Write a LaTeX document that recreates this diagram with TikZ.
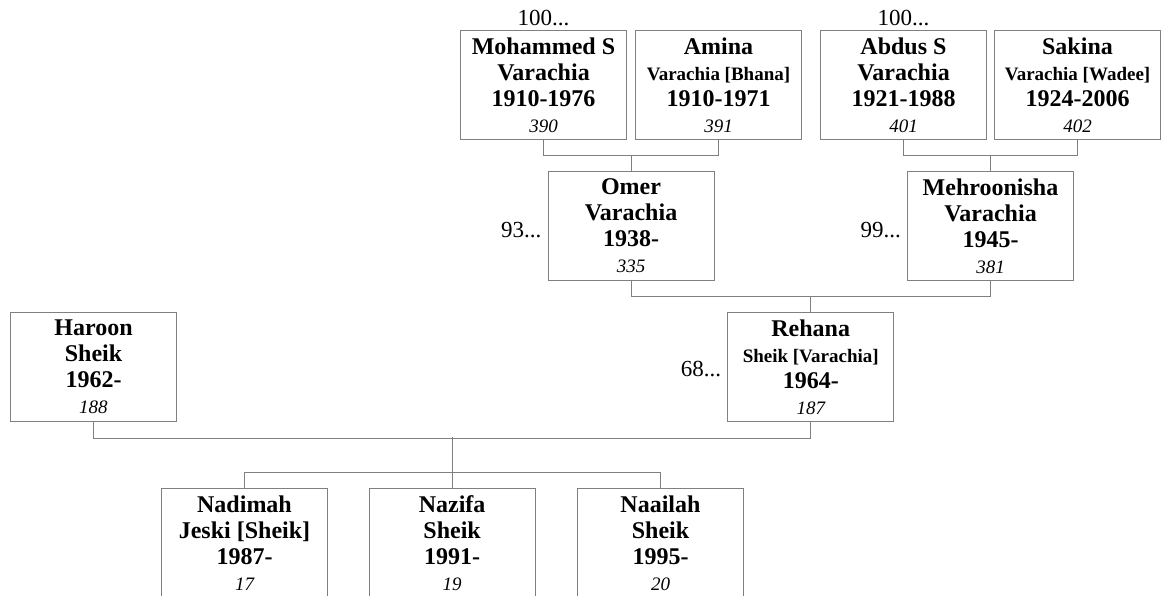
\documentclass[tikz,border=0pt]{standalone}
\usepackage{fontspec}
\setmainfont{Liberation Serif}
\definecolor{linegray}{RGB}{128,128,128}
\newcommand{\subline}[1]{{\fontsize{19}{26}\selectfont #1}}
\newcommand{\idn}[1]{{\mdseries\itshape\fontsize{19}{26}\selectfont #1}}
\tikzset{
  person/.style={draw=linegray, line width=1pt, rectangle, anchor=north west,
    minimum width=166pt, minimum height=109pt, inner sep=0pt, align=center,
    font=\bfseries\fontsize{24}{26}\selectfont},
  conn/.style={draw=linegray, line width=1pt},
  tag/.style={font=\fontsize{23}{26}\selectfont, inner sep=0pt}
}
\begin{document}
\begin{tikzpicture}[x=1pt,y=-1pt]
\useasboundingbox (0,0) rectangle (1168,596);
\clip (0,0) rectangle (1168,596);
% row 1
\node[person] (m1) at (460,30) {Mohammed S\\Varachia\\1910-1976\\\idn{390}};
\node[person] (a1) at (635,30) {Amina\\\subline{Varachia [Bhana]}\\1910-1971\\\idn{391}};
\node[person] (ab) at (820,30) {Abdus S\\Varachia\\1921-1988\\\idn{401}};
\node[person] (sk) at (994,30) {Sakina\\\subline{Varachia [Wadee]}\\1924-2006\\\idn{402}};
% row 2
\node[person] (om) at (547.5,171) {Omer\\Varachia\\1938-\\\idn{335}};
\node[person] (me) at (907,171) {Mehroonisha\\Varachia\\1945-\\\idn{381}};
% row 3
\node[person] (ha) at (10,312) {Haroon\\Sheik\\1962-\\\idn{188}};
\node[person] (re) at (727.25,312) {Rehana\\\subline{Sheik [Varachia]}\\1964-\\\idn{187}};
% children
\node[person] (nd) at (161,488) {Nadimah\\Jeski [Sheik]\\1987-\\\idn{17}};
\node[person] (nz) at (368.6,488) {Nazifa\\Sheik\\1991-\\\idn{19}};
\node[person] (nl) at (577,488) {Naailah\\Sheik\\1995-\\\idn{20}};
% tags
\node[tag, anchor=base] (t1) at ([yshift=4pt]m1.north) {100...};
\node[tag, anchor=base] (t2) at ([yshift=4pt]ab.north) {100...};
\node[tag, anchor=east] (t3) at ([xshift=-6pt,yshift=-4pt]om.west) {93...};
\node[tag, anchor=east] (t4) at ([xshift=-6pt,yshift=-4pt]me.west) {99...};
\node[tag, anchor=east] (t5) at ([xshift=-6pt,yshift=-2pt]re.west) {68...};
% connectors
\draw[conn] (m1.south) -- ++(0,16) -| (a1.south);
\draw[conn] (om.north) -- ++(0,-16);
\draw[conn] (ab.south) -- ++(0,16) -| (sk.south);
\draw[conn] (me.north) -- ++(0,-16);
\draw[conn] (om.south) -- ++(0,16) -| (me.south);
\draw[conn] (re.north) -- ++(0,-16);
\draw[conn] (ha.south) -- ++(0,16) -| (re.south);
\draw[conn] (nz.north) -- ++(0,-51);
\draw[conn] (nd.north) -- ++(0,-16) -| (nl.north);
\end{tikzpicture}
\end{document}
